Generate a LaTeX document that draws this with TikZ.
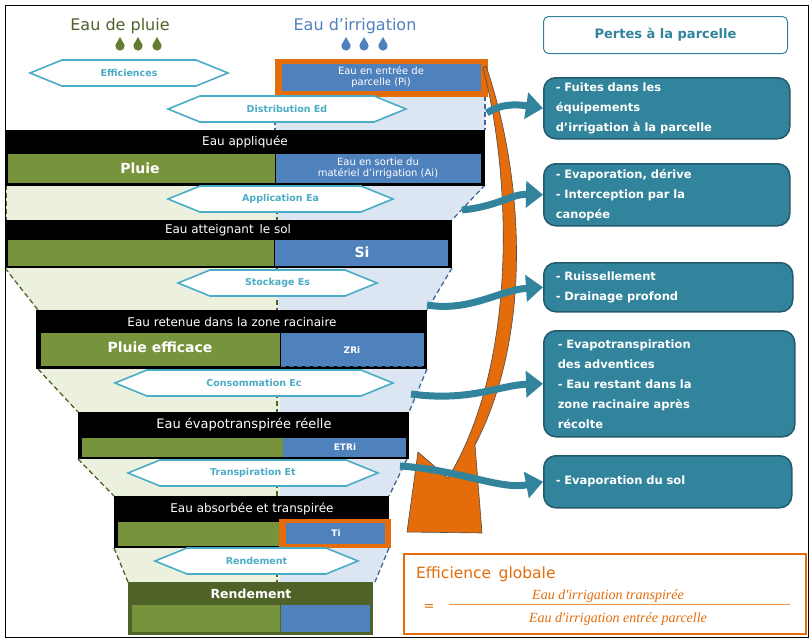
\documentclass[tikz,border=0pt]{standalone}
\usepackage{fontspec}
\setmainfont{DejaVu Sans}
\newfontfamily\frm{Liberation Serif}
\usetikzlibrary{arrows.meta}
\definecolor{cgreen}{HTML}{77933C}
\definecolor{cblue}{HTML}{4F81BD}
\definecolor{lgreen}{HTML}{EBF1DE}
\definecolor{lblue}{HTML}{DCE6F2}
\definecolor{teal}{HTML}{31849B}
\definecolor{cyan}{HTML}{4BACC6}
\definecolor{corange}{HTML}{E46C0A}
\definecolor{dgreen}{HTML}{4F6228}
\definecolor{hblue}{HTML}{4F81BD}
\newcommand{\hexa}[5]{%
  \draw[hex] (#1,#3) -- (#1+32,#3-13) -- (#2-32,#3-13) -- (#2,#3) -- (#2-32,#3+13) -- (#1+32,#3+13) -- cycle;
  \node[hext] (#5) at ({(#1+#2)/2},#3) {#4};}
\newcommand{\drop}[2]{\fill (#1,#2+2) circle (4.6) ; \fill (#1-4.4,#2+0.8) -- (#1,#2-7) -- (#1+4.4,#2+0.8) -- cycle;}
\begin{document}
\begin{tikzpicture}[x=1pt,y=-1pt,
  hex/.style={draw=cyan,line width=1.6,fill=white},
  hext/.style={text=cyan,font=\bfseries\fontsize{9.5}{10}\selectfont,inner sep=0},
  bartxt/.style={text=white,font=\fontsize{12}{13}\selectfont,inner sep=0},
  bigtxt/.style={text=white,font=\bfseries\fontsize{14}{15}\selectfont,inner sep=0},
  smtxt/.style={text=white,font=\bfseries\fontsize{9}{10}\selectfont,inner sep=0},
  gdash/.style={dgreen,dashed,line width=1.3,dash pattern=on 5pt off 3pt},
  bdash/.style={hblue!80!black,dashed,line width=1.3,dash pattern=on 5pt off 3pt},
  loss/.style={rounded corners=12,fill=teal,draw=teal!70!black,line width=1.5,text=white,
     font=\bfseries\fontsize{11.5}{20}\selectfont,align=left,anchor=north west,inner xsep=12,inner ysep=2},
  tarr/.style={teal,line width=7,-{Triangle[width=26pt,length=17pt]}}]
\useasboundingbox (0,0) rectangle (812,641);
\fill[white] (0,0) rectangle (812,641);
% funnel backgrounds
\fill[lblue] (275,96) rectangle (485,130);
\fill[lgreen] (5,185) -- (275,185) -- (275,220) -- (5,220) -- cycle;
\fill[lblue] (275,185) -- (485,185) -- (452,220) -- (275,220) -- cycle;
\fill[lgreen] (5,268) -- (275,268) -- (278,310) -- (38,310) -- cycle;
\fill[lblue] (275,268) -- (452,268) -- (427,310) -- (278,310) -- cycle;
\fill[lgreen] (38,369) -- (280,369) -- (280,412) -- (78,412) -- cycle;
\fill[lblue] (280,369) -- (427,369) -- (409,412) -- (280,412) -- cycle;
\fill[lgreen] (78,459) -- (280,459) -- (280,496) -- (114,496) -- cycle;
\fill[lblue] (280,459) -- (407,459) -- (389,496) -- (280,496) -- cycle;
\fill[lgreen] (114,548) -- (280,548) -- (280,582) -- (128,582) -- cycle;
\fill[lblue] (280,548) -- (389,548) -- (375,582) -- (280,582) -- cycle;
% dashed edges
\draw[bdash] (485,96) -- (485,130);
\draw[bdash] (275,96) -- (275,130);
\draw[gdash] (6,185) -- (6,220); \draw[bdash] (485,185) -- (452,220);
\draw[gdash] (5,268) -- (38,310); \draw[bdash] (452,268) -- (427,310);
\draw[gdash] (38,369) -- (78,412); \draw[bdash] (427,369) -- (409,412);
\draw[gdash] (78,459) -- (114,496); \draw[bdash] (407,459) -- (389,496);
\draw[gdash] (114,548) -- (128,582); \draw[bdash] (389,548) -- (375,582);
\foreach \a/\b in {185/220,268/310,369/412,459/496,548/582}{\draw[gdash] (277,\a) -- (277,\b);}
% frame
\draw[black,line width=0.8] (5,5) rectangle (808,637);
% headers
\node[text=dgreen,font=\fontsize{16}{17}\selectfont] (hp) at (120,26) {Eau de pluie};
\node[text=hblue,font=\fontsize{16}{17}\selectfont] (hi) at (355,26) {Eau d’irrigation};
\begin{scope}[fill=cgreen!85!black]\drop{120}{44}\drop{138}{44}\drop{157}{44}\end{scope}
\begin{scope}[fill=hblue]\drop{346}{44}\drop{364}{44}\drop{383}{44}\end{scope}
% Pi
\fill[corange] (275,59) rectangle (488,97);
\fill[cblue] (282,64) rectangle (481,91);
\node[text=white,font=\fontsize{10}{11}\selectfont,align=center,inner sep=0] (pi) at (381,77) {Eau en entrée de\\parcelle (Pi)};
\hexa{30}{228}{73}{Efficiences}{eff}
\hexa{168}{406}{109}{Distribution Ed}{dist}
% Eau appliquee
\fill[black] (5,130) rectangle (485,186);
\fill[cgreen] (8,154) rectangle (275,183);
\fill[cblue] (276,154) rectangle (481,183);
\node[bartxt] (ea) at (245,142) {Eau appliquée};
\node[bigtxt] (pl) at (140,168) {Pluie};
\node[text=white,font=\fontsize{10}{10.5}\selectfont,align=center,inner sep=0] (ai) at (378,168) {Eau en sortie du\\matériel d’irrigation (Ai)};
\hexa{168}{393}{199}{Application Ea}{app}
% sol
\fill[black] (5,220) rectangle (452,268);
\fill[cgreen] (8,240) rectangle (274,266);
\fill[cblue] (275,240) rectangle (448,266);
\node[bartxt] (es) at (228,230) {Eau atteignant\, le sol};
\node[bigtxt] (si) at (362,252) {Si};
\hexa{178}{377}{283}{Stockage Es}{sto}
% zone racinaire
\fill[black] (36,310) rectangle (427,369);
\fill[cgreen] (41,333) rectangle (280,366);
\fill[cblue] (281,333) rectangle (424,366);
\draw[bdash,line width=0.8] (281,366) -- (424,366);
\node[bartxt] (ezr) at (232,322) {Eau retenue dans la zone racinaire};
\node[bigtxt] (pe) at (160,347) {Pluie efficace};
\node[smtxt] (zri) at (352,350) {ZRi};
\hexa{115}{393}{383}{Consommation Ec}{cons}
% ETR
\fill[black] (78,412) rectangle (409,459);
\fill[cgreen] (82,438) rectangle (283,457);
\fill[cblue] (283,438) rectangle (406,457);
\node[bartxt,font=\fontsize{13}{14}\selectfont] (etr) at (244,425) {Eau évapotranspirée réelle};
\node[smtxt] (etri) at (345,447) {ETRi};
\hexa{128}{378}{473}{Transpiration Et}{tra}
% absorbee
\fill[black] (114,496) rectangle (389,548);
\fill[cgreen] (118,522) rectangle (280,546);
\fill[corange] (279,519) rectangle (391,548);
\fill[cblue] (286,523) rectangle (385,544);
\node[bartxt] (eabs) at (252,509) {Eau absorbée et transpirée};
\node[smtxt] (ti) at (336,533) {Ti};
\hexa{155}{358}{561}{Rendement}{rend}
% rendement
\fill[dgreen] (128,582) rectangle (373,635);
\fill[cgreen] (132,605) rectangle (280,632);
\fill[cblue] (281,605) rectangle (370,632);
\node[text=white,font=\bfseries\fontsize{12.5}{13}\selectfont,inner sep=0] (rd) at (251,594) {Rendement};
% right boxes
\node[draw=teal,line width=1,rounded corners=5,fill=white,text=teal,font=\bfseries\fontsize{13}{14}\selectfont,minimum width=244,minimum height=37,anchor=north west] (pertes) at (543,16) {Pertes à la parcelle};
\node[loss,minimum width=246,minimum height=61,text width=222] (b1) at (543,77) {- Fuites dans les\\équipements\\d’irrigation à la parcelle};
\node[loss,minimum width=246,minimum height=62,text width=222] (b2) at (543,163) {- Evaporation, dérive\\- Interception par la\\canopée};
\node[loss,minimum width=249,minimum height=49,text width=225] (b3) at (543,262) {- Ruissellement\\- Drainage profond};
\node[loss,minimum width=247,minimum height=106,text width=223,inner xsep=14] (b4) at (543,330) {- Evapotranspiration\\des adventices\\- Eau restant dans la\\zone racinaire après\\récolte};
\node[loss,minimum width=248,minimum height=52,text width=224,inner xsep=10] (b5) at (543,455) {- Evaporation du sol};
% orange arrow
\fill[corange,draw=black!70,line width=0.6] (486,66) .. controls (522,170) and (535,330) .. (475,445)
  -- (482,533) -- (407,532) -- (418,452) -- (448,478)
  .. controls (520,360) and (510,170) .. (483,68) -- cycle;
% teal arrows
\coordinate (s1) at (487,113); \coordinate (s2) at (462,210); \coordinate (s3) at (427,305);
\coordinate (s4) at (411,394); \coordinate (s5) at (400,466);
\draw[tarr] (s1) .. controls (500,104) and (515,104) .. (b1.west);
\draw[tarr] (s2) .. controls (500,206) and (510,194) .. (b2.west);
\draw[tarr] (s3) .. controls (470,312) and (500,290) .. (b3.west);
\draw[tarr] (s4) .. controls (470,402) and (500,385) .. (b4.west);
\draw[tarr] (s5) .. controls (460,470) and (500,490) .. (b5.west);
% efficience globale
\draw[corange,line width=2.5] (404,554) rectangle (806,634);
\node[text=corange,font=\fontsize{15.5}{16}\selectfont,anchor=west,inner sep=0] (eg) at (416,574) {Efficience\, globale};
\node[text=corange,font=\fontsize{13}{14}\selectfont,inner sep=0] (eq) at (429,608) {=};
\draw[corange!70,line width=1] (449,604) -- (790,604);
\node[text=corange,font=\frm\itshape\fontsize{14}{15}\selectfont,inner sep=0] (num) at (608,596) {Eau d'irrigation transpirée};
\node[text=corange,font=\frm\itshape\fontsize{14}{15}\selectfont,inner sep=0] (den) at (618,619) {Eau d'irrigation entrée parcelle};
\end{tikzpicture}
\end{document}
